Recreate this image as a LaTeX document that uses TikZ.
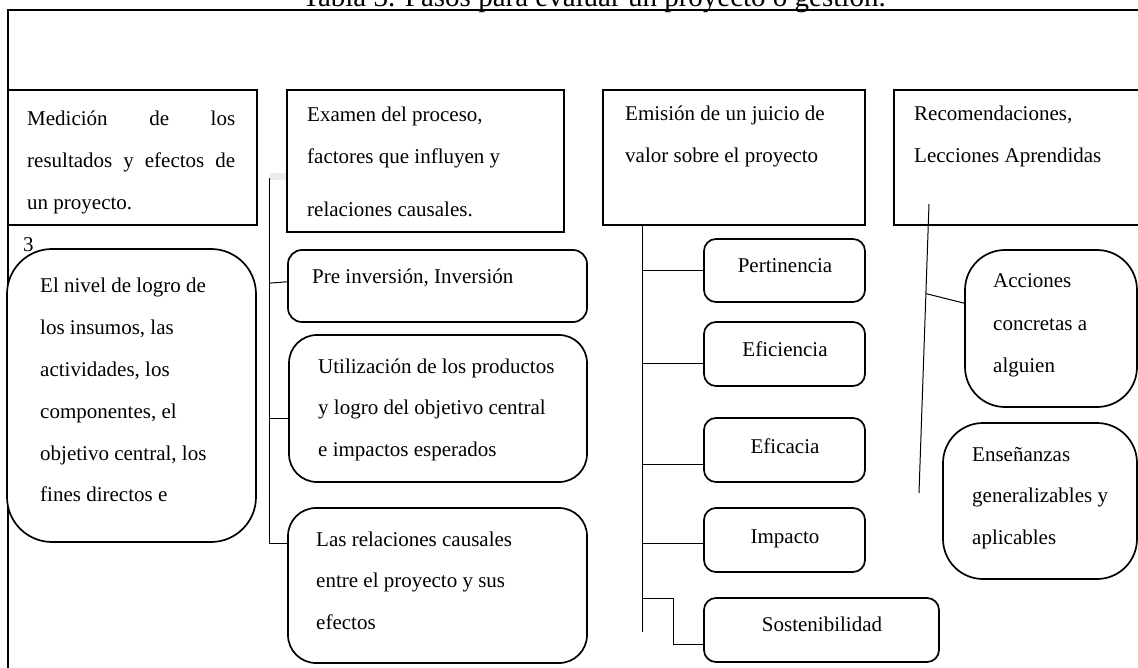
\documentclass[tikz,border=0pt]{standalone}
\usepackage{fontspec}
\setmainfont{Liberation Serif}
\usetikzlibrary{calc}
\begin{document}
\begin{tikzpicture}[x=1pt,y=-1pt,
  sq/.style={draw, line width=1.7pt, inner sep=0pt, outer sep=0pt, anchor=north west},
  rbox/.style={draw, fill=white, line width=1.7pt, inner sep=0pt, outer sep=0pt, anchor=north west, rounded corners=#1},
  txt/.style={anchor=base west, inner sep=0pt, font=\fontsize{21}{41.8}\selectfont},
  ctxt/.style={anchor=base, inner sep=0pt, font=\fontsize{21}{25}\selectfont},
  conn/.style={line width=1pt}]
\useasboundingbox (0,0) rectangle (1138,668);
% outer frame
\draw[line width=1.7pt] (8,720) -- (8,10) -- (1180,10);
\node[anchor=base, inner sep=0pt, font=\fontsize{29}{34}\selectfont] (title) at (594,7) {Tabla 3. Pasos para evaluar un proyecto o gestión.};
\node[anchor=base west, inner sep=0pt, font=\fontsize{21}{25}\selectfont] (num) at (23,252) {3};
% light marks
\fill[gray!15] (270,173) rectangle (287,180);
\fill[gray!15] (962,428) rectangle (992,435);
% header boxes
\node[sq, minimum width=249pt, minimum height=135pt] (b1) at (8,90) {};
\node[sq, minimum width=277pt, minimum height=142pt] (b2) at (287,90) {};
\node[sq, minimum width=262pt, minimum height=135pt] (b3) at (603,90) {};
\node[sq, minimum width=270pt, minimum height=135pt] (b4) at (894,90) {};
% rounded boxes
\node[rbox=45pt, minimum width=249pt, minimum height=293pt] (logro) at (7,249) {};
\node[rbox=14pt, minimum width=299pt, minimum height=72pt] (pre) at (288,250) {};
\node[rbox=28pt, minimum width=298pt, minimum height=147pt] (util) at (289,335) {};
\node[rbox=28pt, minimum width=299pt, minimum height=155pt] (rel) at (288,508) {};
\node[rbox=12pt, minimum width=161pt, minimum height=63pt] (pert) at (704,239) {};
\node[rbox=12pt, minimum width=161pt, minimum height=64pt] (efi) at (704,322) {};
\node[rbox=12pt, minimum width=161pt, minimum height=64pt] (efc) at (704,418) {};
\node[rbox=12pt, minimum width=161pt, minimum height=64pt] (imp) at (704,508) {};
\node[rbox=12pt, minimum width=235pt, minimum height=64pt] (sost) at (704,598) {};
\node[rbox=40pt, minimum width=172pt, minimum height=157pt] (acc) at (965,250) {};
\node[rbox=40pt, minimum width=194pt, minimum height=156pt] (ens) at (943,423) {};
% connectors column 2
\coordinate (t2top) at (269,178);
\coordinate (t2bot) at (269,543);
\draw[conn] (t2top) -- (t2bot) -- (t2bot -| rel.west);
\coordinate (preq) at ($(pre.north west)!0.44!(pre.south west)$);
\draw[conn] ($(preq -| t2top)+(0,1.5)$) -- (preq);
\coordinate (utilq) at ($(util.north west)!0.565!(util.south west)$);
\draw[conn] (utilq -| t2top) -- (utilq);
% connectors column 3
\coordinate (t3top) at ($(b3.south west)+(39,0)$);
\coordinate (t3bot) at (642,632);
\draw[conn] (t3top) -- (t3bot);
\draw[conn] (pert.west -| t3top) -- (pert.west);
\coordinate (efiq) at ($(efi.north west)!0.656!(efi.south west)$);
\draw[conn] (efiq -| t3top) -- (efiq);
\coordinate (efcq) at ($(efc.north west)!0.72!(efc.south west)$);
\draw[conn] (efcq -| t3top) -- (efcq);
\coordinate (impq) at ($(imp.north west)!0.55!(imp.south west)$);
\draw[conn] (impq -| t3top) -- (impq);
\coordinate (sostq) at ($(sost.north west)!0.73!(sost.south west)$);
\draw[conn] (t3top |- sost.north) -- ++(31,0) |- (sostq);
% connectors column 4
\coordinate (r4top) at (929,204);
\coordinate (r4bot) at (919,493);
\draw[conn] (r4top) -- (r4bot);
\coordinate (accq) at ($(acc.north west)!0.34!(acc.south west)$);
\draw[conn] ($(r4top)!0.31!(r4bot)$) -- (accq);
% texts
\node[txt] (tb1) at (27,126) {\parbox[t]{208pt}{\makebox[208pt][s]{Medición de los}\\\makebox[208pt][s]{resultados y efectos de}\\un proyecto.}};
\node[txt] (tb2) at (307,122) {\parbox[t]{250pt}{\raggedright Examen del proceso,\\factores que influyen y\\[11pt]relaciones causales.}};
\node[txt] (tb3) at (625,121) {\parbox[t]{235pt}{\raggedright Emisión de un juicio de\\valor sobre el proyecto}};
\node[txt] (tb4) at (914,121) {\parbox[t]{220pt}{\raggedright Recomendaciones,\\Lecciones Aprendidas}};
\node[txt] (tlogro) at (40,293) {\parbox[t]{210pt}{\raggedright El nivel de logro de\\los insumos, las\\actividades, los\\componentes, el\\objetivo central, los\\fines directos e}};
\node[txt] (tpre) at (312,284) {Pre inversión, Inversión};
\node[txt] (tutil) at (318,373) {\parbox[t]{265pt}{\raggedright Utilización de los productos\\y logro del objetivo central\\e impactos esperados}};
\node[txt] (trel) at (316,546) {\parbox[t]{265pt}{\raggedright Las relaciones causales\\entre el proyecto y sus\\efectos}};
\node[ctxt] (tpert) at (785,273) {Pertinencia};
\node[ctxt] (tefi) at (785,356) {Eficiencia};
\node[ctxt] (tefc) at (785,453) {Eficacia};
\node[ctxt] (timp) at (785,543) {Impacto};
\node[ctxt] (tsost) at (822,631) {Sostenibilidad};
\node[txt] (tacc) at (993,288) {\parbox[t]{140pt}{\raggedright \fontsize{21}{42.5}\selectfont Acciones\\concretas a\\alguien}};
\node[txt] (tens) at (972,461) {\parbox[t]{160pt}{\raggedright Enseñanzas\\generalizables y\\aplicables}};
\end{tikzpicture}
\end{document}
